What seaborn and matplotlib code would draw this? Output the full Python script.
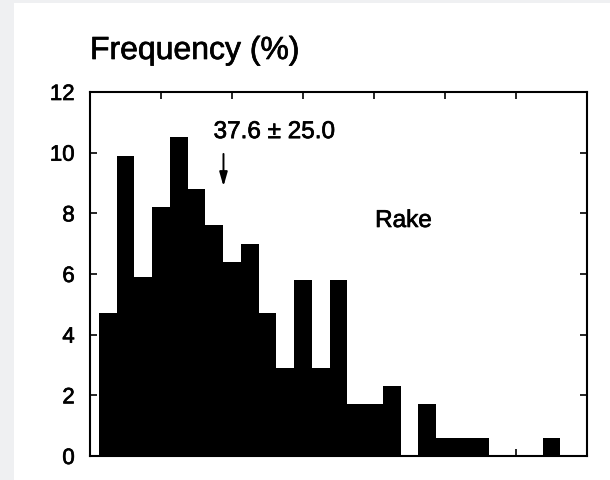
import matplotlib.pyplot as plt
import seaborn as sns
import pandas as pd
from matplotlib.patches import Rectangle
import matplotlib.patheffects as pe

# Style
sns.set_style("white")
plt.rcParams["font.family"] = ["Liberation Sans", "DejaVu Sans"]
plt.rcParams["text.color"] = "black"
plt.rcParams["ytick.color"] = "black"
plt.rcParams["xtick.color"] = "black"

# -----------------------------
# DATA (rake histogram, % per 5 degree bin)
# -----------------------------
rake_bins = [5, 10, 15, 20, 25, 30, 35, 40, 45, 50, 55, 60, 65,
             70, 75, 80, 85, 90, 95, 100, 105, 110, 115, 120, 125, 130]
freq_pct = [4.7, 9.9, 5.9, 8.2, 10.5, 8.8, 7.6, 6.4, 7.0, 4.7, 2.9, 5.8, 2.9,
            5.8, 1.7, 1.7, 2.3, 0.0, 1.7, 0.6, 0.6, 0.6, 0.0, 0.0, 0.0, 0.6]
bin_edges = [2.5 + 5 * i for i in range(len(rake_bins) + 1)]
y_ticks = [0, 2, 4, 6, 8, 10, 12]
x_ticks = [0, 20, 40, 60, 80, 100, 120, 140]

mean_rake = 37.6
std_rake = 25.0

df = pd.DataFrame({"Rake": rake_bins, "Freq": freq_pct})

# slightly heavier strokes, like the scanned print
heavy = [pe.withStroke(linewidth=0.5, foreground="black")]

# -----------------------------
# FIGURE
# -----------------------------
fig = plt.figure(figsize=(6.10, 4.81), dpi=100)
fig.patch.set_facecolor("#eff0f2")
fig.patches.append(Rectangle((14 / 610, 0), 1, 477 / 481, transform=fig.transFigure,
                             facecolor="white", edgecolor="none", zorder=-5))

ax = fig.add_axes([90 / 610, 24 / 481, 497 / 610, 364 / 481])
ax.set_zorder(2)

sns.histplot(data=df, x="Rake", weights="Freq", bins=bin_edges, ax=ax,
             color="black", edgecolor="black", linewidth=0, alpha=1, stat="count")

ax.set_xlim(0, 140)
ax.set_ylim(0, 12)
ax.set_xticks(x_ticks)
ax.set_yticks(y_ticks)
ax.set_xticklabels([])
ax.set_xlabel("")
ax.set_ylabel("")
ax.tick_params(axis="both", direction="in", length=5, width=1.2,
               top=True, right=True, bottom=True, left=True)
ax.tick_params(axis="y", labelsize=16, pad=11)
for lab in ax.get_yticklabels():
    lab.set_path_effects(heavy)
for s in ax.spines.values():
    s.set_linewidth(1.5)
    s.set_color("black")

# -----------------------------
# ANNOTATIONS
# -----------------------------
fig.text(90 / 610, (481 - 60) / 481, "Frequency (%)", fontsize=23, va="baseline",
         ha="left", zorder=3, path_effects=heavy)
ax.text(51.9, 10.48, f"{mean_rake} \u00b1 {std_rake}", fontsize=17.5,
        ha="center", va="baseline", path_effects=heavy)
ax.annotate("", xy=(mean_rake, 8.8), xytext=(mean_rake, 10.05),
            arrowprops=dict(arrowstyle="-|>,head_width=0.2,head_length=0.7",
                            color="black", lw=1.4, mutation_scale=12))
ax.text(80.3, 7.55, "Rake", fontsize=17.5, ha="left", va="baseline", path_effects=heavy)

plt.savefig("out.png", dpi=100, facecolor=fig.get_facecolor())
